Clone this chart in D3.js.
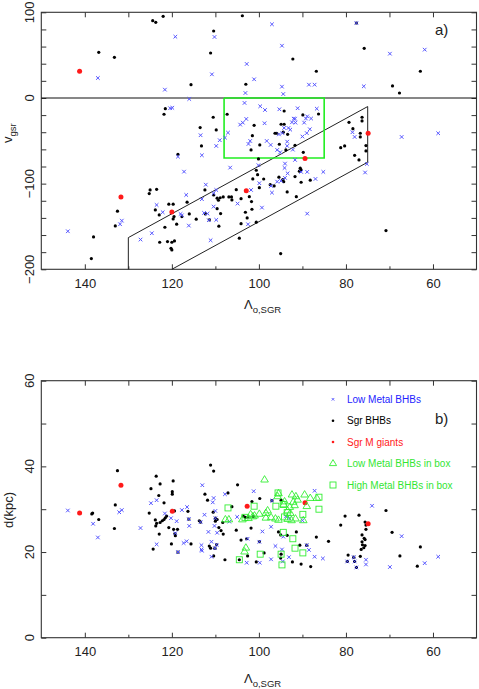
<!DOCTYPE html>
<html>
<head>
<meta charset="utf-8">
<script src="https://cdn.jsdelivr.net/npm/d3@7"></script>
<style>
  body { margin: 0; background: #fff; }
  svg { font-family: "Liberation Sans", Arial, sans-serif; }
</style>
</head>
<body>
<div id="chart"></div>
<script>
// panel a) Lambda vs v_gsr
var topBlack = [[124.4,90.2],[123.7,88.3],[122.0,95.3],[103.8,96.0],[77.6,87.5],[110.4,78.2],[136.8,53.3],[133.2,47.5],[111.1,52.5],[92.2,45.5],[75.8,58.0],[86.8,31.2],[115.6,15.5],[103.0,16.0],[69.3,14.0],[67.7,5.8],[62.9,31.2],
  [121.5,-12.5],[121.8,-19.0],[110.5,-22.5],[107.3,-19.0],[113.5,-34.6],[109.8,-37.3],[113.2,-56.0],[94.2,-15.2],[86.3,-18.7],[89.9,-19.8],[101.1,-31.9],[94.9,-30.7],[94.2,-30.7],[96.3,-41.2],[95.9,-41.2],[93.4,-42.4],[94.4,-39.9],[101.5,-44],[99.8,-54.8],[95.3,-54],[91.7,-55.2],[79.3,-28.4],[76.3,-22.5],[76.3,-26.8],[78.4,-35.8],[76.7,-41.2],[76.7,-45.5],[80.3,-56],[81.2,-58],[75.4,-55.6],
  [118.6,-65.7],[101.8,-60.7],[93.8,-60.7],[89.8,-63.4],[78.0,-66.9],[77.0,-72.3],[75.4,-61.8],[100.1,-71.2],[100.6,-84.4],[100.3,-89.5],[101.4,-94.5],[98.9,-94.6],[97.4,-101.2],[99.9,-104.7],[96.5,-102.7],[94.5,-95.3],[94.3,-97.7],[95.4,-92.5],[90.5,-82],[90.3,-84],[90.7,-85.5],[88.2,-96],[91.7,-91.8],[90.3,-98.4],[93.5,-109.7],[91.4,-115.2],
  [105.2,-107],[106.9,-115.5],[106.3,-115.5],[108.2,-115.5],[108.9,-116.5],[112.4,-107.4],[110.4,-113.2],[109.6,-117],[109.3,-119.4],[116.5,-121.7],[120.7,-124],[119.7,-124],[119.5,-138.5],[119.7,-141.2],[122.9,-136.5],[123.8,-130.7],[125.2,-111.6],[125,-107.4],[123.5,-106.6],[118.9,-147.3],[116.0,-135.4],[114.4,-141.5],[117.7,-138.5],[112.3,-135.4],[111.4,-142.3],[109.6,-129.2],[108.8,-135],[109.2,-149.7],[106.2,-119],[104.1,-117.5],[103.1,-133.4],[102.7,-140],[102.2,-115.2],[101.7,-121],[101.6,-129.9],[100.6,-145],[104.1,-146.7],[104.5,-163.7],[122.8,-168.4],[121,-167.6],[120,-168.4],[119.4,-166.9],[120.2,-175.4],[120.0,-177.4],[121.6,-150.9],[132.5,-132.2],[133.0,-149.4],[138.0,-162.2],[138.5,-187.5],[95.0,-181.7],[70.8,-154.8]];
var topBlue = [[119.2,71.5],[110.2,71.2],[97.0,86.0],[94.7,61.0],[102.8,39.7],[69.9,51.7],[61.9,56.4],[137.0,23.3],[110.8,27.6],[101.1,21.8],[121.6,9.7],[103.1,5.8],[94.7,13.2],[94.4,4.6],[88.5,15.5],[87.2,15.5],[75.9,13.6],[116.0,-1.2],[77.6,87.5],
  [120.4,-12],[119.9,-11.5],[103.3,-5.8],[99.7,-9.7],[98.6,-14],[95.3,-13.2],[91.1,-12],[86.7,-12.5],[92.0,-24.2],[91.7,-24.2],[102.9,-24.5],[103.7,-28.8],[104.3,-31.1],[98.7,-29.5],[92.4,-28.4],[91.6,-28.8],[88.9,-21.5],[89.2,-24],[88.0,-24],[89.6,-28.8],[93.2,-35],[94.2,-35],[92.8,-37],[88.3,-36.5],[89.0,-41],[90.0,-45],[94.6,-41],[95.4,-42.5],[113.4,-43.5],[109,-49.3],[107.8,-46.3],[107.1,-40.5],[109.8,-56],[102.4,-53.7],[102.0,-50.2],[98.2,-50.2],[97.3,-54.8],[78.5,-40],[78,-45.5],[67.2,-45.5],[58.8,-41.2],
  [93.5,-51],[93.5,-56],[92.2,-60.3],[95.8,-60.7],[95.1,-63.4],[113.1,-66.9],[94.0,-76.6],[94.1,-81.7],[91.7,-72.3],[100.1,-78.5],[106.6,-81.3],[117.2,-86],[94.0,-93.3],[94.9,-96.8],[95.8,-97.7],[97.0,-110.5],[97.2,-102.7],[93.4,-88],[90.3,-86.3],[88.9,-86.3],[87.0,-94.5],[85.2,-86.3],[99.9,-99.5],[101.8,-107.4],[99.3,-128],[104.9,-123.3],[112.2,-101.2],[113.1,-118.1],[110.4,-111.2],[109.8,-107.4],[116.7,-113.2],[112.6,-134.2],[111.8,-135],[110.4,-126.8],[109.8,-142.3],[111.5,-142.7],[118,-135.4],[117.7,-137],[122.1,-133.4],[123.5,-124.9],[116.1,-149],[111.1,-166.1],[124.6,-157.9],[127.2,-165.3],[131.5,-143.2],[131.9,-147.4],[143.9,-155.6],[102.5,-147.4],[88.9,-135],[75.6,-87],[75.2,-77],[118.6,-68.5]];
var topRed = [[141.2,31.2],[131.7,-115.5],[120.0,-133],[102.9,-108.2],[89.4,-70.8],[74.9,-41.2]];

// selection box (green) and stream band (black)
var greenBox = [[108,0],[85,0],[85,-70],[108,-70],[108,0]];
var band = [[130,-200],[130,-163],[75,-10],[75,-75],[120,-200]];

// panel b) Lambda vs distance
var botBlack = [[132.5,39.0],[133.0,31.0],[133.2,25.5],[138.4,28.9],[138.2,29.1],[136.8,27.6],[123.6,37.7],[122.7,35.9],[124.8,34.8],[123.0,33.2],[119.7,36.6],[119.9,34.1],[119.9,33.5],[121.8,31.5],[125.2,29.1],[119.4,29.6],[123.8,27.5],[123.5,26.7],[123.7,26.1],[122.7,26.9],[122.2,27.3],[121.8,27.6],[121.5,28.0],[121.2,28.4],[122.9,24.2],[120.7,25.7],[119.6,25.3],[118.7,25.3],[119.3,24.3],[119.2,23.8],[120.1,21.9],[124.3,20.7],[116.3,29.5],[115.6,21.9],[113.7,27.3],[112.4,33.5],[111.8,32.1],[111.1,40.3],[110.4,38.9],[110.5,29.3],[109.6,27.6],[110.0,27.2],[109.2,25.7],[108.7,25.0],[108.2,24.2],[108.3,26.9],[111.4,21.4],[111.1,20.9],[107.1,33.8],[106.2,30.6],[104.9,35.7],[105.2,25.1],[103.6,28.4],[103.1,28.1],[102.5,28.2],[101.3,28.3],[101.8,25.6],[101.6,31.8],[99.8,32.5],[104.1,22.8],[102.8,23.1],[95.5,24.7],[95.0,24.0],[93.5,23.9],[91.4,24.7],[90.6,21.6],[86.8,23.5],[84.0,22.5],[81.2,26.3],[80.2,28.4],[77.0,28.6],[75.6,27.0],[75.4,26.3],[75.4,25.3],[76.3,24.0],[75.8,23.2],[76.3,22.4],[75.6,22.9],[76.2,21.7],[76.5,20.6],[75.9,21.0],[75.6,21.5],[70.8,29.7],[69.4,24.6],[62.9,21.2],[94.9,32.1],
  [110.4,19.1],[107.8,18.2],[102.6,19.1],[100.6,17.7],[98.8,19.8],[94.9,19.5],[95.0,18.6],[92.3,17.7],[90.3,17.2],[88.1,16.6],[79.5,19.3],[79.7,17.8],[78.2,18.8],[78.0,17.8],[77.6,16.4],[76.7,19.0],[67.6,19.1],[63.6,16.7],[104.5,18.2],[118.6,20.0],[116.1,27.7],[113.4,27.0],[110.0,27.9],[109.7,21.7],[110.1,20.9],[99.9,22.4],[97.0,32.0],[89.0,21.6]];
var botBlue = [[143.9,29.7],[138.1,26.6],[137.0,23.4],[132.1,29.3],[131.5,29.8],[127.2,25.6],[124.8,31.4],[123.5,32.1],[123.5,21.8],[121.6,29.0],[120.2,27.9],[118.9,27.2],[119.2,24.4],[118.6,20.0],[117.7,29.8],[116.5,30.5],[116.1,27.7],[116.0,26.1],[117.3,22.1],[116.6,22.5],[113.0,35.6],[113.4,27.0],[112.5,28.7],[113.2,21.6],[113.2,20.6],[110.4,32.6],[110.6,31.6],[110.2,26.1],[110.0,29.6],[110.0,27.9],[111.6,24.7],[110.9,22.4],[109.7,21.7],[110.1,20.9],[109.6,24.5],[110.9,18.9],[107.8,33.5],[106.8,27.1],[105.0,28.2],[102.6,23.1],[101.2,34.2],[99.9,22.4],[99.2,24.8],[97.0,32.0],[97.2,25.9],[96.2,21.4],[94.7,20.6],[94.4,23.6],[93.8,28.3],[93.0,27.9],[93.1,18.8],[89.0,21.6],[88.5,20.5],[90.0,27.4],[87.2,34.3],[87.2,18.9],[85.3,18.5],[74.0,30.8],[67.2,23.7],[58.8,18.9],
  [113.1,20.3],[102.8,17.5],[99.8,17.5],[97.2,18.3],[94.5,17.8],[79.7,17.8],[78.2,18.8],[78.0,17.8],[77.6,16.4],[75.4,18.2],[75.4,17.1],[69.9,16.5],[61.9,17.4]];
var botRed = [[141.2,29.1],[131.7,35.6],[119.9,29.5],[102.7,30.7],[89.4,31.5],[74.9,26.6]];
var botTri = [[98.7,37.0],[95.5,33.8],[95.7,33.1],[94.1,31.9],[94.3,31.2],[92.4,33.5],[91.5,33.1],[91.1,32.3],[89.5,33.5],[88.2,32.7],[86.7,32.7],[89.0,30.8],[92.1,31.8],[91.8,31.0],[92.9,30.6],[93.4,29.8],[92.8,29.2],[98.0,29.8],[98.4,29.2],[99.9,29.0],[101.9,28.9],[101.4,28.4],[101.0,28.6],[103.8,27.7],[102.4,28.0],[107.7,27.7],[106.9,27.7],[98.4,28.1],[97.2,28.2],[96.2,27.9],[95.5,27.6],[93.4,27.8],[92.5,27.5],[91.6,27.9],[89.8,27.5],[103.0,21.1],[103.3,20.2]];
var botSq = [[107.1,30.3],[101.1,30.7],[95.6,33.8],[94.4,31.1],[96.1,30.7],[93.5,29.2],[86.2,30.0],[89.9,28.8],[103.2,28.1],[94.1,28.2],[94.4,24.6],[92.2,23.1],[91.7,20.9],[89.9,19.8],[99.7,19.5],[94.9,19.5],[104.5,18.2],[86.2,32.8],[94.7,17.0]];

var legendNames = ["Low Metal BHBs","Sgr BHBs","Sgr M giants","Low Metal BHBs in box","High Metal BHBs in box"];
var legendColors = ["#2323ff","#000","#ff1a1a","#33e633","#33e633"];

var xTicks = [140,120,100,80,60];
var xMinor = [130,110,90,70];

var W = 479, H = 689;
var BLUE = "#5555ff", GREEN = "#33ee33";

var svg = d3.select("#chart").append("svg")
  .attr("width", W).attr("height", H);

var x = d3.scaleLinear().domain([150,50]).range([41.3,476.5]);
var yA = d3.scaleLinear().domain([-200,100]).range([269.3,12.3]);
var yB = d3.scaleLinear().domain([0,60]).range([637.7,380.7]);

function frame(y, yTickVals, yLabels, titleY)
{
  var g = svg.append("g");
  var top = y.range()[1], bot = y.range()[0];
  var x0 = x.range()[0], x1 = x.range()[1];

  var axB = g.append("g").attr("transform","translate(0,"+bot+")")
    .call(d3.axisBottom(x).tickValues(xTicks).tickSize(-5).tickPadding(9));
  g.append("g").attr("transform","translate(0,"+bot+")")
    .call(d3.axisBottom(x).tickValues(xMinor).tickSize(-3).tickFormat(""));
  g.append("g").attr("transform","translate(0,"+top+")")
    .call(d3.axisTop(x).tickValues(xTicks.concat(xMinor)).tickSize(-5).tickFormat(""));
  g.append("g").attr("transform","translate("+x0+",0)")
    .call(d3.axisLeft(y).tickValues(yTickVals).tickSize(-5).tickFormat(""));
  g.append("g").attr("transform","translate("+x1+",0)")
    .call(d3.axisRight(y).tickValues(yTickVals).tickSize(-5).tickFormat(""));
  g.selectAll(".domain").remove();
  g.selectAll(".tick line").attr("stroke","#333").attr("stroke-width",1);
  axB.selectAll("text").attr("font-size","13px").attr("fill","#222")
    .style("font-family","Liberation Sans, Arial, sans-serif");

  g.append("rect").attr("x",x0).attr("y",top)
    .attr("width",x1-x0).attr("height",bot-top)
    .attr("fill","none").attr("stroke","#333").attr("stroke-width",1.1);

  g.selectAll(".ylab").data(yLabels).enter().append("text")
    .attr("transform",function(d){ return "translate(34,"+y(d)+") rotate(-90)"; })
    .attr("text-anchor","middle")
    .attr("font-size","13px").attr("fill","#222")
    .text(function(d){ return d<0 ? "\u2212"+(-d) : d; });

  var t = g.append("text").attr("x",244).attr("y",titleY)
    .attr("font-size","13px").attr("fill","#222");
  t.append("tspan").text("\u039b");
  t.append("tspan").attr("dy",4).attr("font-size","9.5px").text("o,SGR");
  return g;
}

function dots(data, y, r, col)
{
  svg.append("g").selectAll("circle").data(data).enter().append("circle")
    .attr("cx",function(d){ return x(d[0]); })
    .attr("cy",function(d){ return y(d[1]); })
    .attr("r",r).attr("fill",col);
}
function crosses(data, y)
{
  svg.append("g").selectAll("path").data(data).enter().append("path")
    .attr("transform",function(d){ return "translate("+x(d[0])+","+y(d[1])+")"; })
    .attr("d","M-1.8,-1.8L1.8,1.8M-1.8,1.8L1.8,-1.8")
    .attr("stroke",BLUE).attr("stroke-width",1).attr("fill","none");
}

// ---------- panel a ----------
frame(yA, d3.range(-200,101,20), [100,0,-100,-200], 308.5);

svg.append("line").attr("x1",x.range()[0]).attr("x2",x.range()[1])
  .attr("y1",yA(0)).attr("y2",yA(0)).attr("stroke","#111").attr("stroke-width",1.1);

var lineA = d3.line().x(function(d){ return x(d[0]); }).y(function(d){ return yA(d[1]); });
svg.append("path").attr("d",lineA(band)).attr("fill","none").attr("stroke","#222").attr("stroke-width",1);
svg.append("path").attr("d",lineA(greenBox)).attr("fill","none").attr("stroke","#22ee22").attr("stroke-width",1.6);

dots(topBlack, yA, 1.6, "#000");
crosses(topBlue, yA);
dots(topRed, yA, 2.5, "#ff1a1a");

svg.append("text").attr("x",435).attr("y",35).attr("font-size","15px").attr("fill","#222").text("a)");

var ttl = svg.append("text").attr("transform","translate(12,143) rotate(-90)")
  .attr("font-size","13px").attr("fill","#222");
ttl.append("tspan").text("v");
ttl.append("tspan").attr("dy",4).attr("font-size","9.5px").text("gsr");

// ---------- panel b ----------
frame(yB, d3.range(0,61,10), [0,20,40,60], 683);

dots(botBlack, yB, 1.6, "#000");
crosses(botBlue, yB);
dots(botRed, yB, 2.5, "#ff1a1a");

svg.append("g").selectAll("path").data(botTri).enter().append("path")
  .attr("transform",function(d){ return "translate("+x(d[0])+","+yB(d[1])+")"; })
  .attr("d","M0,-3.6L3.8,2.8L-3.8,2.8Z")
  .attr("fill","none").attr("stroke",GREEN).attr("stroke-width",0.9);
svg.append("g").selectAll("rect").data(botSq).enter().append("rect")
  .attr("x",function(d){ return x(d[0])-3; })
  .attr("y",function(d){ return yB(d[1])-3; })
  .attr("width",6).attr("height",6)
  .attr("fill","none").attr("stroke",GREEN).attr("stroke-width",0.9);

svg.append("text").attr("transform","translate(13,510) rotate(-90)")
  .attr("text-anchor","middle").attr("font-size","13px").attr("fill","#222").text("d(kpc)");

svg.append("text").attr("x",435).attr("y",424).attr("font-size","15px").attr("fill","#222").text("b)");

// legend
var leg = svg.append("g");
var legY = [399.3,420.7,442,463,485];
leg.selectAll("text").data(legendNames).enter().append("text")
  .attr("x",347).attr("y",function(d,i){ return legY[i]+3.5; })
  .attr("font-size","10px").attr("fill",function(d,i){ return legendColors[i]; })
  .text(function(d){ return d; });
leg.append("path").attr("transform","translate(333,"+legY[0]+")")
  .attr("d","M-1.3,-1.3L1.3,1.3M-1.3,1.3L1.3,-1.3").attr("stroke",BLUE).attr("stroke-width",0.9);
leg.append("circle").attr("cx",333).attr("cy",legY[1]).attr("r",1.3).attr("fill","#000");
leg.append("circle").attr("cx",333).attr("cy",legY[2]).attr("r",1.3).attr("fill","#ff1a1a");
leg.append("path").attr("transform","translate(333,"+legY[3]+")")
  .attr("d","M0,-3.4L3.6,2.6L-3.6,2.6Z").attr("fill","none").attr("stroke",GREEN).attr("stroke-width",0.9);
leg.append("rect").attr("x",330).attr("y",legY[4]-3).attr("width",6).attr("height",6)
  .attr("fill","none").attr("stroke",GREEN).attr("stroke-width",0.9);
</script>
</body>
</html>
